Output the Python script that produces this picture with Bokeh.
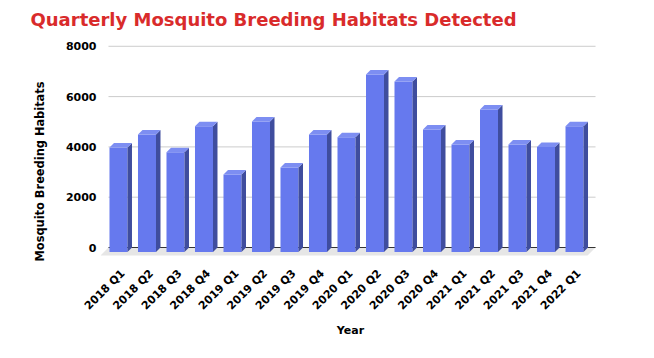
import math
from bokeh.plotting import figure
from bokeh.models import Range1d, FixedTicker, Title
from bokeh.embed import file_html
from bokeh.resources import INLINE

# ---- data ----
quarters = ["2018 Q1", "2018 Q2", "2018 Q3", "2018 Q4",
            "2019 Q1", "2019 Q2", "2019 Q3", "2019 Q4",
            "2020 Q1", "2020 Q2", "2020 Q3", "2020 Q4",
            "2021 Q1", "2021 Q2", "2021 Q3", "2021 Q4",
            "2022 Q1"]
habitats = [4150, 4670, 3970, 5000,
            3080, 5190, 3360, 4670,
            4560, 7060, 6780, 4870,
            4270, 5670, 4270, 4170,
            5000]
y_ticks = [0, 2000, 4000, 6000, 8000]

TITLE = "Quarterly Mosquito Breeding Habitats Detected"
X_TITLE = "Year"
Y_TITLE = "Mosquito Breeding Habitats"

# ---- style ----
FRONT = "#6679ee"
SIDE = "#3f4d9e"
TOP = "#7d8ef2"
FLOOR = "#e6e6e6"
GRID = "#cccccc"
BASE = "#333333"
RED = "#d92b2b"
FONT = "DejaVu Sans"

x0, x1 = -0.789, 16.754
y0, y1 = -477, 8270
FW, FH = 500, 220

p = figure(frame_width=FW, frame_height=FH, output_backend="svg", toolbar_location=None,
           x_range=Range1d(x0, x1), y_range=Range1d(y0, y1),
           min_border_left=100, min_border_right=46,
           min_border_top=39, min_border_bottom=90,
           outline_line_color=None)
p.xgrid.visible = False
p.ygrid.visible = False

# 3D geometry (data units)
px_x = FW / (x1 - x0)
px_y = FH / (y1 - y0)
depth = 4.5
dx = depth / px_x
dy = depth / px_y
w = 18 / px_x
n = len(quarters)
xs = list(range(n))

# floor
fl_l, fl_r = -0.509, 16.58
fdx, fdy = 8 / px_x, 8 / px_y
p.patch([fl_l, fl_r, fl_r - fdx, fl_l - fdx], [0, 0, -fdy, -fdy],
        fill_color=FLOOR, line_color=None)

# gridlines on the back wall
gy = [t for t in y_ticks if t > 0]
p.segment(x0=[fl_l] * len(gy), x1=[fl_r] * len(gy), y0=gy, y1=gy,
          line_color=GRID, line_width=1)
p.segment(x0=[fl_l], x1=[fl_r], y0=[0], y1=[0], line_color=BASE, line_width=1.2)

# bars
p.vbar(x=[x - dx for x in xs], width=w, bottom=-dy,
       top=[v - dy for v in habitats], fill_color=FRONT, line_color=None)
p.patches(xs=[[x - dx + w / 2, x - dx + w / 2, x + w / 2, x + w / 2] for x in xs],
          ys=[[-dy, v - dy, v, 0] for v in habitats],
          fill_color=SIDE, line_color=None)
p.patches(xs=[[x - dx - w / 2, x - dx + w / 2, x + w / 2, x - w / 2] for x in xs],
          ys=[[v - dy, v - dy, v, v] for v in habitats],
          fill_color=TOP, line_color=None)

# axes
p.yaxis.ticker = FixedTicker(ticks=y_ticks)
p.yaxis.axis_line_color = None
p.yaxis.major_tick_line_color = None
p.yaxis.minor_tick_line_color = None
p.yaxis.major_tick_out = 0
p.yaxis.major_tick_in = 0
p.yaxis.major_label_standoff = 4
p.yaxis.major_label_text_font = FONT
p.yaxis.major_label_text_font_style = "bold"
p.yaxis.major_label_text_font_size = "11px"
p.yaxis.major_label_text_color = "black"

p.xaxis.ticker = FixedTicker(ticks=xs)
p.xaxis.major_label_overrides = {i: q for i, q in enumerate(quarters)}
p.xaxis.major_label_orientation = math.pi / 4
p.xaxis.axis_line_color = None
p.xaxis.major_tick_line_color = None
p.xaxis.minor_tick_line_color = None
p.xaxis.major_label_standoff = 6
p.xaxis.major_label_text_font = FONT
p.xaxis.major_label_text_font_style = "bold"
p.xaxis.major_label_text_font_size = "11px"
p.xaxis.major_label_text_color = "black"
p.xaxis.axis_label = X_TITLE
p.xaxis.axis_label_text_font = FONT
p.xaxis.axis_label_text_font_style = "bold"
p.xaxis.axis_label_text_font_size = "11px"
p.xaxis.axis_label_text_color = "black"
p.xaxis.axis_label_standoff = 4

# y title as a side title
p.add_layout(Title(text=Y_TITLE, align="left", offset=-2, standoff=32,
                   text_font=FONT, text_font_style="bold",
                   text_font_size="11.4px", text_color="black"), "left")

# title
p.title.text = TITLE
p.title.text_font = FONT
p.title.text_font_style = "bold"
p.title.text_font_size = "18px"
p.title.text_color = RED
p.title.offset = -70
p.title.vertical_align = "top"
p.title.standoff = 15

open("out.html", "w").write(file_html(p, INLINE))
